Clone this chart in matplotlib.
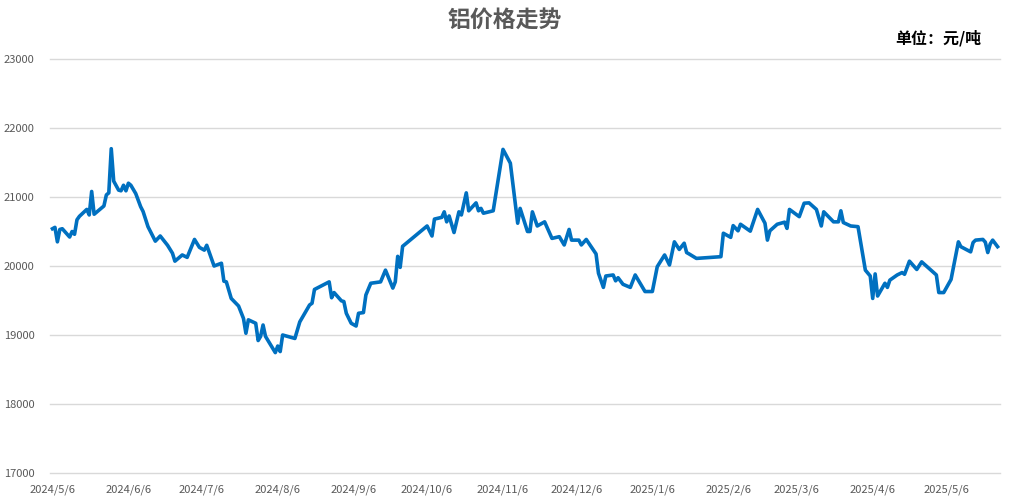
import pandas as pd
import matplotlib
matplotlib.use("Agg")
import matplotlib.pyplot as plt

plt.rcParams['font.family'] = ['Noto Sans CJK SC', 'DejaVu Sans']

# 读图得到的拐点 (日期, 铝价 元/吨)
dates = [
    "2024-05-06", "2024-05-07", "2024-05-08", "2024-05-09", "2024-05-10", "2024-05-13",
    "2024-05-14", "2024-05-15", "2024-05-16", "2024-05-17", "2024-05-20", "2024-05-21",
    "2024-05-22", "2024-05-23", "2024-05-27", "2024-05-28", "2024-05-29", "2024-05-30",
    "2024-05-31", "2024-06-02", "2024-06-03", "2024-06-04", "2024-06-05", "2024-06-06",
    "2024-06-07", "2024-06-09", "2024-06-11", "2024-06-12", "2024-06-14", "2024-06-17",
    "2024-06-19", "2024-06-22", "2024-06-24", "2024-06-25", "2024-06-28", "2024-06-30",
    "2024-07-03", "2024-07-05", "2024-07-07", "2024-07-08", "2024-07-11", "2024-07-14",
    "2024-07-15", "2024-07-16", "2024-07-18", "2024-07-21", "2024-07-23", "2024-07-24",
    "2024-07-25", "2024-07-28", "2024-07-29", "2024-07-30", "2024-07-31", "2024-08-01",
    "2024-08-05", "2024-08-06", "2024-08-07", "2024-08-08", "2024-08-13", "2024-08-15",
    "2024-08-19", "2024-08-20", "2024-08-21", "2024-08-27", "2024-08-28", "2024-08-29",
    "2024-09-01", "2024-09-02", "2024-09-03", "2024-09-05", "2024-09-07", "2024-09-08",
    "2024-09-10", "2024-09-11", "2024-09-13", "2024-09-17", "2024-09-19", "2024-09-22",
    "2024-09-23", "2024-09-24", "2024-09-25", "2024-09-26", "2024-10-06", "2024-10-08",
    "2024-10-09", "2024-10-12", "2024-10-13", "2024-10-14", "2024-10-15", "2024-10-17",
    "2024-10-19", "2024-10-20", "2024-10-22", "2024-10-23", "2024-10-26", "2024-10-27",
    "2024-10-28", "2024-10-29", "2024-11-02", "2024-11-06", "2024-11-09", "2024-11-12",
    "2024-11-13", "2024-11-16", "2024-11-17", "2024-11-18", "2024-11-20", "2024-11-23",
    "2024-11-26", "2024-11-29", "2024-12-01", "2024-12-03", "2024-12-04", "2024-12-07",
    "2024-12-08", "2024-12-10", "2024-12-14", "2024-12-15", "2024-12-17", "2024-12-18",
    "2024-12-21", "2024-12-22", "2024-12-23", "2024-12-25", "2024-12-28", "2024-12-30",
    "2025-01-03", "2025-01-06", "2025-01-08", "2025-01-11", "2025-01-13", "2025-01-15",
    "2025-01-17", "2025-01-19", "2025-01-20", "2025-01-21", "2025-01-24", "2025-02-03",
    "2025-02-04", "2025-02-07", "2025-02-08", "2025-02-10", "2025-02-11", "2025-02-15",
    "2025-02-18", "2025-02-21", "2025-02-22", "2025-02-23", "2025-02-26", "2025-03-01",
    "2025-03-02", "2025-03-03", "2025-03-07", "2025-03-09", "2025-03-11", "2025-03-14",
    "2025-03-16", "2025-03-17", "2025-03-21", "2025-03-23", "2025-03-24", "2025-03-25",
    "2025-03-28", "2025-03-31", "2025-04-03", "2025-04-05", "2025-04-06", "2025-04-07",
    "2025-04-08", "2025-04-11", "2025-04-12", "2025-04-13", "2025-04-16", "2025-04-18",
    "2025-04-19", "2025-04-21", "2025-04-24", "2025-04-26", "2025-05-02", "2025-05-03",
    "2025-05-05", "2025-05-08", "2025-05-11", "2025-05-12", "2025-05-16", "2025-05-17",
    "2025-05-18", "2025-05-21", "2025-05-22", "2025-05-23", "2025-05-24", "2025-05-25",
    "2025-05-27",
]
prices = [
    20540, 20560, 20350, 20530, 20540, 20420,
    20500, 20460, 20670, 20720, 20820, 20740,
    21080, 20750, 20870, 21030, 21060, 21700,
    21230, 21100, 21090, 21170, 21090, 21200,
    21170, 21050, 20860, 20790, 20570, 20360,
    20435, 20300, 20185, 20070, 20160, 20125,
    20385, 20270, 20230, 20300, 20000, 20040,
    19780, 19770, 19530, 19420, 19240, 19025,
    19220, 19170, 18920, 18980, 19145, 18980,
    18745, 18840, 18760, 19000, 18950, 19190,
    19435, 19460, 19660, 19770, 19540, 19615,
    19495, 19485, 19315, 19170, 19130, 19315,
    19325, 19580, 19750, 19770, 19940, 19680,
    19770, 20140, 19980, 20285, 20580, 20435,
    20680, 20705, 20785, 20640, 20725, 20485,
    20785, 20740, 21060, 20800, 20915, 20800,
    20835, 20765, 20800, 21690, 21490, 20620,
    20835, 20500, 20500, 20785, 20580, 20640,
    20400, 20425, 20305, 20530, 20375, 20375,
    20305, 20385, 20175, 19895, 19690, 19855,
    19870, 19785, 19830, 19735, 19690, 19870,
    19630, 19630, 19990, 20160, 20015, 20350,
    20240, 20330, 20195, 20175, 20110, 20135,
    20475, 20415, 20585, 20510, 20605, 20505,
    20820, 20620, 20375, 20510, 20605, 20635,
    20545, 20820, 20715, 20910, 20915, 20820,
    20580, 20785, 20640, 20640, 20800, 20630,
    20580, 20570, 19940, 19855, 19530, 19885,
    19565, 19750, 19690, 19795, 19870, 19905,
    19880, 20070, 19950, 20060, 19870, 19615,
    19615, 19805, 20350, 20280, 20205, 20340,
    20375, 20385, 20345, 20195, 20320, 20375,
    20280,
]
tick_dates = ["2024-05-06", "2024-06-06", "2024-07-06", "2024-08-06", "2024-09-06",
              "2024-10-06", "2024-11-06", "2024-12-06", "2025-01-06", "2025-02-06",
              "2025-03-06", "2025-04-06", "2025-05-06"]
y_ticks = [17000, 18000, 19000, 20000, 21000, 22000, 23000]

x = pd.to_datetime(dates)
ticks = pd.to_datetime(tick_dates)

fig = plt.figure(figsize=(10.09, 5.0), dpi=100)
ax = fig.add_axes([0.0496, 0.054, 0.9415, 0.828])

ax.plot(x, prices, color='#0070C0', linewidth=2.6, solid_joinstyle='round', zorder=3)

ax.set_ylim(17000, 23000)
ax.set_yticks(y_ticks)
ax.set_xlim(pd.Timestamp("2024-05-05"), pd.Timestamp("2025-05-28"))
ax.set_xticks(ticks)
ax.set_xticklabels([f"{d.year}/{d.month}/{d.day}" for d in ticks])
ax.grid(axis='y', color='#D9D9D9', linewidth=1.0)
for g in ax.get_ygridlines():
    g.set_clip_on(False)
ax.set_axisbelow(True)
for s in ax.spines.values():
    s.set_visible(False)
ax.tick_params(length=0, labelsize=8, colors='#595959')
ax.tick_params(axis='x', pad=8)
ax.tick_params(axis='y', pad=11)

fig.text(0.5, 0.957, '铝价格走势', ha='center', va='center', fontsize=16.5,
         fontweight='bold', color='#595959')
fig.text(0.973, 0.924, '单位：元/吨', ha='right', va='center', fontsize=11.5,
         fontweight='bold', color='#000000')

fig.savefig('out.png', dpi=100)
